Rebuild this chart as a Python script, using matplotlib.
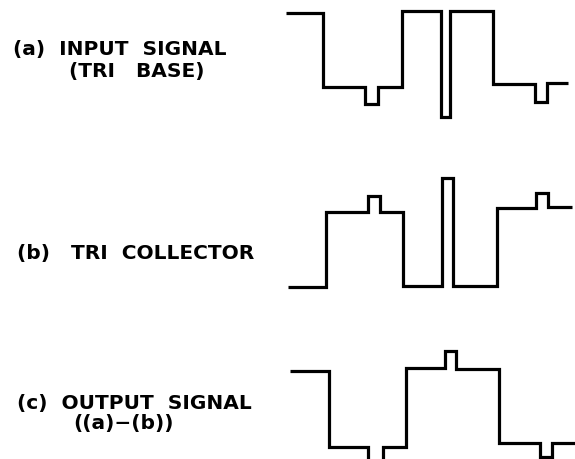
import matplotlib
matplotlib.use("Agg")
import matplotlib.pyplot as plt

# Waveform breakpoints (time axis, arbitrary units) and levels per segment
t_a = [286, 323, 365, 378, 402, 441, 450, 493, 535, 547, 568]
lvl_a = [13, 87, 104, 87, 11, 117, 11, 84, 102, 83]

t_b = [288, 326, 368, 380, 403, 442, 453, 497, 536, 548, 572]
lvl_b = [287, 212, 196, 212, 286, 178, 286, 208, 193, 207]

t_c = [290, 329, 368, 383, 406, 445, 456, 499, 540, 552, 576]
lvl_c = [371, 447, 463, 447, 368, 351, 369, 443, 457, 443]

labels = [
    ("(a)  INPUT  SIGNAL", 13, 49),
    ("(TRI   BASE)", 69, 72),
    ("(b)   TRI  COLLECTOR", 17, 253),
    ("(c)  OUTPUT  SIGNAL", 17, 403),
    ("((a)\u2212(b))", 73, 424),
]

fig = plt.figure(figsize=(5.75, 4.59), dpi=100)
ax = fig.add_axes([0, 0, 1, 1])
ax.set_xlim(0, 575)
ax.set_ylim(459, 0)
ax.axis("off")

for t, lv in [(t_a, lvl_a), (t_b, lvl_b), (t_c, lvl_c)]:
    ax.step(t, lv + [lv[-1]], where="post", color="black", lw=2.3,
            solid_joinstyle="miter", solid_capstyle="butt")

for s, x, y in labels:
    ax.text(x, y, s, ha="left", va="center", fontsize=14.5, fontweight="bold",
            family="DejaVu Sans", color="black")

fig.savefig("out.png", dpi=100, facecolor="white")
